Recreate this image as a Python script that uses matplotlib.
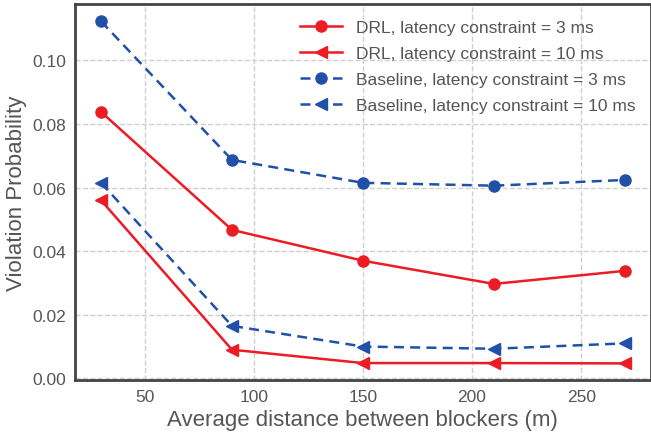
import matplotlib
matplotlib.use("Agg")
import matplotlib.pyplot as plt

RED = "#ec1c24"
BLUE = "#2150a8"
TEXT = "#555555"
SPINE = "#444444"

distance = [30, 90, 150, 210, 270]
drl_3ms = [0.0838, 0.0467, 0.0370, 0.0297, 0.0338]
drl_10ms = [0.0560, 0.0090, 0.0048, 0.0048, 0.0047]
base_3ms = [0.1123, 0.0687, 0.0615, 0.0606, 0.0624]
base_10ms = [0.0615, 0.0165, 0.0100, 0.0093, 0.0110]

plt.rcParams["font.family"] = ["Liberation Sans", "DejaVu Sans"]

fig, ax = plt.subplots(figsize=(6.51, 4.35), dpi=100)
fig.patch.set_facecolor("white")

ax.grid(color="#d0d0d0", linestyle="--", linewidth=1.0)
ax.set_axisbelow(True)

ax.plot(distance, drl_3ms, color=RED, marker="o", markersize=8, linewidth=1.8,
        label="DRL, latency constraint = 3 ms")
ax.plot(distance, drl_10ms, color=RED, marker="<", markersize=9, linewidth=1.8,
        label="DRL, latency constraint = 10 ms")
ax.plot(distance, base_3ms, color=BLUE, marker="o", markersize=8, linewidth=1.8,
        linestyle=(0, (4, 2.5)), label="Baseline, latency constraint = 3 ms")
ax.plot(distance, base_10ms, color=BLUE, marker="<", markersize=9, linewidth=1.8,
        linestyle=(0, (4, 2.5)), label="Baseline, latency constraint = 10 ms")

ax.set_xticks([50, 100, 150, 200, 250])
ax.set_yticks([0.00, 0.02, 0.04, 0.06, 0.08, 0.10])
ax.yaxis.set_major_formatter(matplotlib.ticker.FormatStrFormatter("%.2f"))
ax.tick_params(colors=TEXT, labelsize=12.5, length=0, pad=6)

for spine in ax.spines.values():
    spine.set_edgecolor(SPINE)
    spine.set_linewidth(2)

ax.set_xlabel("Average distance between blockers (m)", color=TEXT, fontsize=16)
ax.set_ylabel("Violation Probability", color=TEXT, fontsize=16)

leg = ax.legend(loc="upper right", frameon=False, fontsize=12.5, labelcolor=TEXT,
                handlelength=2.4, borderaxespad=0.5, labelspacing=0.62,
                handletextpad=0.8)

fig.subplots_adjust(left=0.115, right=1.0, top=0.988, bottom=0.123)
fig.savefig("out.png", dpi=100, facecolor="white")
